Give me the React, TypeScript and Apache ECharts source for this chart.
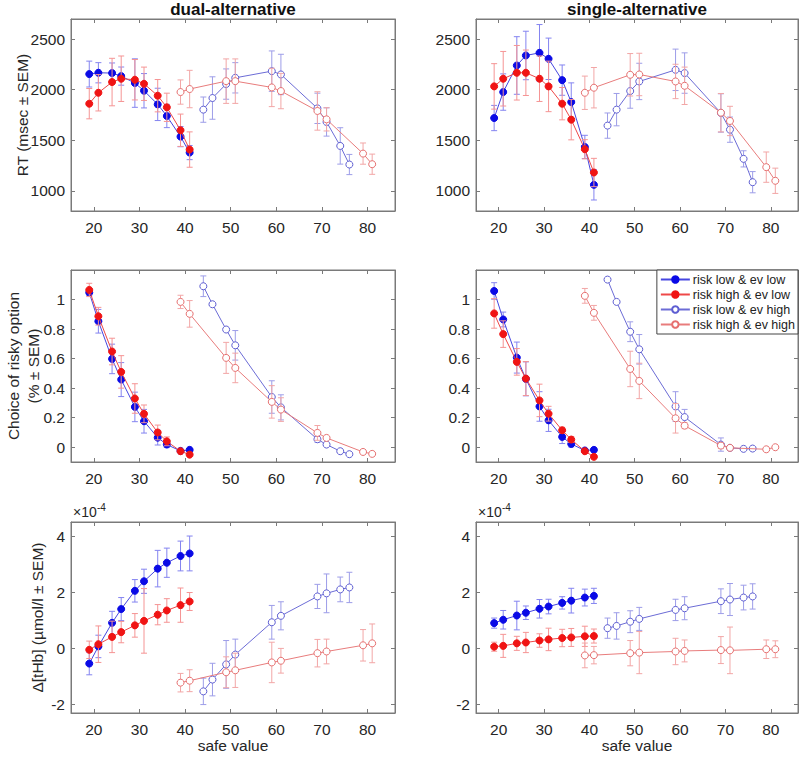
import React, { useEffect, useRef } from "react";
import * as echarts from "echarts";

const FONT = "'Liberation Sans', Arial, Helvetica, sans-serif";

// ---------- data ----------
const xLow = [19, 21, 24, 26, 29, 31, 34, 36, 39, 41];
const xHighLowRisk = [44, 46, 49, 51, 59, 61, 69, 71, 74, 76];
const xHighHighRisk = [39, 41, 49, 51, 59, 61, 69, 71, 79, 81];
const xTicks = [20, 30, 40, 50, 60, 70, 80];

const seriesNames = ["risk low & ev low", "risk high & ev low", "risk low & ev high", "risk high & ev high"];
const columnTitles = ["dual-alternative", "single-alternative"];

// RT (msec)
const rtDualLL = [2155, 2168, 2165, 2135, 2066, 1990, 1855, 1740, 1536, 1378];
const rtDualLLErr = [128, 100, 100, 90, 240, 170, 160, 115, 100, 70];
const rtDualHL = [1862, 1970, 2076, 2109, 2099, 2059, 1941, 1826, 1599, 1408];
const rtDualHLErr = [150, 180, 235, 225, 200, 165, 160, 140, 160, 175];
const rtDualLH = [1803, 1918, 2056, 2118, 2184, 2151, 1816, 1681, 1444, 1260];
const rtDualLHErr = [125, 210, 150, 150, 200, 200, 150, 140, 180, 100];
const rtDualHH = [1977, 2007, 2085, 2085, 2023, 1987, 1790, 1707, 1368, 1263];
const rtDualHHErr = [120, 185, 220, 220, 190, 175, 190, 115, 105, 100];

const rtSingleLL = [1720, 1977, 2240, 2339, 2365, 2306, 2095, 1878, 1434, 1059];
const rtSingleLLErr = [125, 180, 285, 240, 280, 205, 150, 190, 115, 150];
const rtSingleHL = [2033, 2109, 2168, 2168, 2109, 2033, 1862, 1704, 1411, 1181];
const rtSingleHLErr = [225, 270, 270, 225, 225, 250, 160, 200, 95, 140];
const rtSingleLH = [1645, 1803, 1987, 2082, 2197, 2165, 1770, 1605, 1316, 1085];
const rtSingleLHErr = [125, 160, 170, 180, 205, 200, 190, 125, 80, 105];
const rtSingleHH = [1970, 2020, 2148, 2151, 2082, 2039, 1773, 1691, 1234, 1099];
const rtSingleHHErr = [165, 200, 210, 210, 170, 185, 190, 145, 150, 125];

// Choice of risky option
const chDualLL = [1.047, 0.853, 0.598, 0.458, 0.273, 0.176, 0.065, 0.018, -0.025, -0.018];
const chDualLLErr = [0.02, 0.08, 0.1, 0.115, 0.1, 0.08, 0.05, 0.02, 0.01, 0.01];
const chDualHL = [1.065, 0.887, 0.648, 0.51, 0.33, 0.226, 0.1, 0.04, -0.027, -0.05];
const chDualHLErr = [0.045, 0.06, 0.09, 0.11, 0.1, 0.06, 0.05, 0.03, 0.01, 0.01];
const chDualLH = [1.09, 0.968, 0.797, 0.69, 0.34, 0.27, 0.054, 0.018, -0.027, -0.047];
const chDualLHErr = [0.07, 0.01, 0.01, 0.1, 0.11, 0.085, 0.02, 0.01, 0.01, 0.01];
const chDualHH = [0.984, 0.903, 0.605, 0.537, 0.307, 0.255, 0.097, 0.063, -0.032, -0.045];
const chDualHHErr = [0.045, 0.09, 0.105, 0.1, 0.11, 0.08, 0.05, 0.01, 0.01, 0.01];

const chSingleLL = [1.058, 0.865, 0.607, 0.463, 0.276, 0.182, 0.07, 0.022, -0.022, -0.018];
const chSingleLLErr = [0.056, 0.05, 0.105, 0.115, 0.1, 0.075, 0.045, 0.02, 0.01, 0.01];
const chSingleHL = [0.906, 0.766, 0.578, 0.465, 0.317, 0.227, 0.115, 0.052, -0.027, -0.065];
const chSingleHLErr = [0.1, 0.09, 0.09, 0.115, 0.11, 0.05, 0.02, 0.02, 0.01, 0.01];
const chSingleLH = [1.135, 0.984, 0.782, 0.663, 0.276, 0.204, 0.018, -0.004, -0.011, -0.009];
const chSingleLHErr = [0.01, 0.01, 0.067, 0.1, 0.1, 0.052, 0.045, 0.01, 0.01, 0.01];
const chSingleHH = [1.025, 0.91, 0.53, 0.449, 0.196, 0.146, 0.011, -0.004, -0.014, 0.0];
const chSingleHHErr = [0.05, 0.05, 0.12, 0.12, 0.1, 0.02, 0.02, 0.01, 0.01, 0.01];

// Δ[tHb] in units of 1e-4 µmol/l
const hbDualLL = [-0.54, 0.07, 0.91, 1.4, 2.05, 2.39, 2.84, 3.05, 3.29, 3.38];
const hbDualLLErr = [0.4, 0.4, 0.41, 0.41, 0.4, 0.43, 0.65, 0.52, 0.53, 0.62];
const hbDualHL = [-0.05, 0.15, 0.41, 0.58, 0.82, 0.98, 1.2, 1.35, 1.54, 1.67];
const hbDualHLErr = [0.31, 0.65, 0.56, 0.38, 0.42, 1.15, 0.36, 0.42, 0.61, 0.32];
const hbDualLH = [-1.53, -1.11, -0.57, -0.22, 0.93, 1.16, 1.85, 1.96, 2.1, 2.17];
const hbDualLHErr = [0.47, 0.58, 0.85, 0.55, 0.6, 0.5, 0.43, 0.69, 0.44, 0.54];
const hbDualHH = [-1.22, -1.15, -0.85, -0.78, -0.5, -0.44, -0.17, -0.11, 0.11, 0.18];
const hbDualHHErr = [0.33, 0.39, 0.55, 0.61, 0.72, 0.44, 0.49, 0.44, 0.56, 0.69];

const hbSingleLL = [0.9, 1.02, 1.17, 1.27, 1.41, 1.49, 1.62, 1.7, 1.81, 1.87];
const hbSingleLLErr = [0.18, 0.33, 0.51, 0.24, 0.33, 0.26, 0.22, 0.44, 0.3, 0.27];
const hbSingleHL = [0.06, 0.09, 0.18, 0.21, 0.28, 0.32, 0.37, 0.39, 0.43, 0.44];
const hbSingleHLErr = [0.16, 0.41, 0.25, 0.36, 0.24, 0.4, 0.31, 0.32, 0.36, 0.25];
const hbSingleLH = [0.72, 0.8, 0.95, 1.05, 1.37, 1.43, 1.68, 1.74, 1.81, 1.85];
const hbSingleLHErr = [0.36, 0.47, 0.39, 0.41, 0.38, 0.41, 0.44, 0.57, 0.44, 0.45];
const hbSingleHH = [-0.25, -0.24, -0.17, -0.15, -0.11, -0.09, -0.06, -0.07, -0.03, -0.03];
const hbSingleHHErr = [0.44, 0.31, 0.45, 0.75, 0.47, 0.39, 0.48, 0.83, 0.33, 0.3];

// y axis ticks per row
const rtTicks = [1000, 1500, 2000, 2500];
const choiceTicks = [0, 0.2, 0.4, 0.6, 0.8, 1];
const hbTicks = [-2, 0, 2, 4];

// ---------- styling ----------
const STYLES = [
  { marker: "#0a0ae6", border: "#0a0ae6", line: "#4646e0", err: "#8484f0", size: 7 },
  { marker: "#f01414", border: "#f01414", line: "#ee4848", err: "#f59494", size: 7 },
  { marker: "#ffffff", border: "#5e5ed2", line: "#6c6cd6", err: "#9d9de8", size: 7 },
  { marker: "#ffffff", border: "#e67070", line: "#e87c7c", err: "#f2a6a6", size: 7 },
];

const COLS = [
  { left: 71, width: 324 },
  { left: 476, width: 322 },
];
const ROWS = [
  { top: 19, height: 192, min: 800, max: 2700, ticks: rtTicks },
  { top: 270, height: 192, min: -0.1, max: 1.2, ticks: choiceTicks },
  { top: 522, height: 191, min: -2.3, max: 4.5, ticks: hbTicks },
];

const PANEL_DATA = [
  [
    [[rtDualLL, rtDualLLErr], [rtDualHL, rtDualHLErr], [rtDualLH, rtDualLHErr], [rtDualHH, rtDualHHErr]],
    [[rtSingleLL, rtSingleLLErr], [rtSingleHL, rtSingleHLErr], [rtSingleLH, rtSingleLHErr], [rtSingleHH, rtSingleHHErr]],
  ],
  [
    [[chDualLL, chDualLLErr], [chDualHL, chDualHLErr], [chDualLH, chDualLHErr], [chDualHH, chDualHHErr]],
    [[chSingleLL, chSingleLLErr], [chSingleHL, chSingleHLErr], [chSingleLH, chSingleLHErr], [chSingleHH, chSingleHHErr]],
  ],
  [
    [[hbDualLL, hbDualLLErr], [hbDualHL, hbDualHLErr], [hbDualLH, hbDualLHErr], [hbDualHH, hbDualHHErr]],
    [[hbSingleLL, hbSingleLLErr], [hbSingleHL, hbSingleHLErr], [hbSingleLH, hbSingleLHErr], [hbSingleHH, hbSingleHHErr]],
  ],
];
const X_FOR_SERIES = [xLow, xLow, xHighLowRisk, xHighHighRisk];

const AXIS_COLOR = "#7a7a7a";
const LABEL_COLOR = "#262626";
const TICK_FONT = 15.5;

function errRenderer(color: string) {
  return (params: any, api: any) => {
    const x = api.value(0);
    const y = api.value(1);
    const e = api.value(2);
    const t = api.coord([x, y + e]);
    const b = api.coord([x, y - e]);
    const w = 3;
    const style = { stroke: color, lineWidth: 1 };
    return {
      type: "group",
      children: [
        { type: "line", shape: { x1: t[0], y1: t[1], x2: b[0], y2: b[1] }, style },
        { type: "line", shape: { x1: t[0] - w, y1: t[1], x2: t[0] + w, y2: t[1] }, style },
        { type: "line", shape: { x1: b[0] - w, y1: b[1], x2: b[0] + w, y2: b[1] }, style },
      ],
    };
  };
}

function buildOption() {
  const grid: any[] = [];
  const xAxis: any[] = [];
  const yAxis: any[] = [];
  const series: any[] = [];

  ROWS.forEach((row, r) => {
    COLS.forEach((col, c) => {
      const g = grid.length;
      grid.push({
        left: col.left,
        width: col.width,
        top: row.top,
        height: row.height,
        containLabel: false,
        show: true,
        borderColor: AXIS_COLOR,
        borderWidth: 1,
        backgroundColor: "#fff",
      });
      const baseX = {
        type: "value",
        gridIndex: g,
        min: 15,
        max: 86,
        splitLine: { show: false },
        axisLine: { show: true, onZero: false, lineStyle: { color: AXIS_COLOR } },
        axisTick: { show: true, inside: true, length: 4, customValues: xTicks, lineStyle: { color: AXIS_COLOR } },
      };
      xAxis.push({
        ...baseX,
        position: "bottom",
        axisLabel: {
          show: true,
          customValues: xTicks,
          formatter: (v: number) => String(v),
          color: LABEL_COLOR,
          fontSize: TICK_FONT,
          fontFamily: FONT,
          margin: 8,
        },
      });
      xAxis.push({ ...baseX, position: "top", axisLabel: { show: false } });
      const baseY = {
        type: "value",
        gridIndex: g,
        min: row.min,
        max: row.max,
        splitLine: { show: false },
        axisLine: { show: true, onZero: false, lineStyle: { color: AXIS_COLOR } },
        axisTick: { show: true, inside: true, length: 4, customValues: row.ticks, lineStyle: { color: AXIS_COLOR } },
      };
      yAxis.push({
        ...baseY,
        position: "left",
        axisLabel: {
          show: true,
          customValues: row.ticks,
          formatter: (v: number) => String(v),
          color: LABEL_COLOR,
          fontSize: TICK_FONT,
          fontFamily: FONT,
          margin: 6,
        },
      });
      yAxis.push({ ...baseY, position: "right", axisLabel: { show: false } });

      const xi = xAxis.length - 2;
      const yi = yAxis.length - 2;
      const sets = PANEL_DATA[r][c];
      sets.forEach((pair, s) => {
        const [ys, errs] = pair;
        const xs = X_FOR_SERIES[s];
        const st = STYLES[s];
        series.push({
          type: "custom",
          xAxisIndex: xi,
          yAxisIndex: yi,
          renderItem: errRenderer(st.err),
          encode: { x: 0, y: 1 },
          data: xs.map((x, i) => [x, ys[i], errs[i]]),
          z: 2 + s * 2,
          silent: true,
        });
        series.push({
          type: "line",
          name: seriesNames[s],
          xAxisIndex: xi,
          yAxisIndex: yi,
          data: xs.map((x, i) => [x, ys[i]]),
          symbol: "circle",
          symbolSize: st.size,
          showSymbol: true,
          lineStyle: { color: st.line, width: 1 },
          itemStyle: { color: st.marker, borderColor: st.border, borderWidth: 1 },
          z: 3 + s * 2,
          silent: true,
        });
      });
    });
  });

  const graphic: any[] = [];
  COLS.forEach((col, c) => {
    const cx = col.left + col.width / 2;
    graphic.push({
      type: "text",
      x: cx,
      y: 9,
      style: {
        text: columnTitles[c],
        fontSize: 17,
        fontWeight: "bold",
        fontFamily: FONT,
        fill: "#111",
        align: "center",
        verticalAlign: "middle",
      },
    });
    graphic.push({
      type: "text",
      x: cx,
      y: 745,
      style: {
        text: "safe value",
        fontSize: TICK_FONT,
        fontFamily: FONT,
        fill: LABEL_COLOR,
        align: "center",
        verticalAlign: "middle",
      },
    });
    graphic.push({
      type: "text",
      x: col.left + 2,
      y: 519,
      style: { text: "×10", fontSize: 14, fontFamily: FONT, fill: LABEL_COLOR, align: "left", verticalAlign: "bottom" },
    });
    graphic.push({
      type: "text",
      x: col.left + 26,
      y: 512,
      style: { text: "-4", fontSize: 10, fontFamily: FONT, fill: LABEL_COLOR, align: "left", verticalAlign: "bottom" },
    });
  });

  const yLabels = [
    { text: "RT (msec ± SEM)", x: 22, y: ROWS[0].top + ROWS[0].height / 2 },
    { text: "Choice of risky option", x: 13, y: ROWS[1].top + ROWS[1].height / 2 },
    { text: "(% ± SEM)", x: 33, y: ROWS[1].top + ROWS[1].height / 2 },
    { text: "Δ[tHb] (µmol/l ± SEM)", x: 37, y: ROWS[2].top + ROWS[2].height / 2 },
  ];
  yLabels.forEach((l) => {
    graphic.push({
      type: "text",
      x: l.x,
      y: l.y,
      rotation: Math.PI / 2,
      style: {
        text: l.text,
        fontSize: TICK_FONT,
        fontFamily: FONT,
        fill: LABEL_COLOR,
        align: "center",
        verticalAlign: "middle",
      },
    });
  });

  return {
    animation: false,
    backgroundColor: "#ffffff",
    grid,
    xAxis,
    yAxis,
    series,
    graphic,
    legend: {
      show: true,
      orient: "vertical",
      right: 2,
      top: 270,
      data: seriesNames,
      selectedMode: false,
      itemWidth: 29,
      itemHeight: 8,
      itemGap: 2,
      padding: [3, 3, 3, 3],
      borderColor: "#444",
      borderWidth: 1,
      backgroundColor: "#ffffff",
      textStyle: { fontSize: 12.5, fontFamily: FONT, color: "#222", padding: [0, 0, 0, -2] },
      z: 20,
    },
  };
}

export default function App() {
  const ref = useRef<HTMLDivElement>(null);
  useEffect(() => {
    if (!ref.current) return;
    const chart = echarts.init(ref.current, null, { renderer: "svg" });
    chart.setOption(buildOption() as any);
    return () => chart.dispose();
  }, []);
  return (
    <div
      ref={ref}
      style={{ position: "fixed", left: 0, top: 0, width: 800, height: 759, background: "#fff" }}
    />
  );
}
